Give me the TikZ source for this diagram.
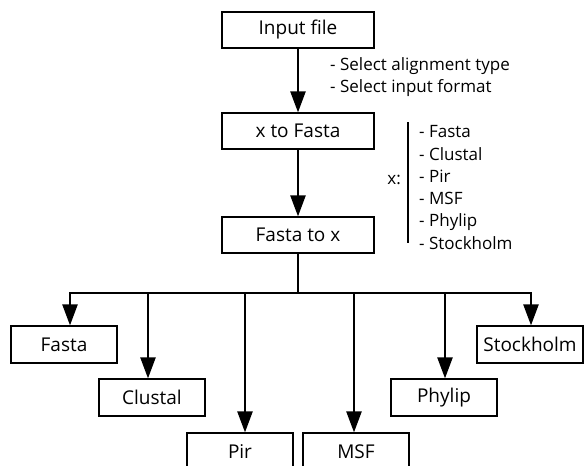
\documentclass[tikz,border=0pt]{standalone}
\usepackage{fontspec}
\setmainfont{Open Sans}
\usetikzlibrary{arrows.meta}
\tikzset{
  stepbox/.style = {draw, line width=1.2pt, minimum width=152pt, minimum height=36pt,
                    inner sep=0pt, font=\fontsize{19}{22}\selectfont},
  outbox/.style  = {draw, line width=1.2pt, minimum width=106pt, minimum height=37pt,
                    inner sep=0pt, font=\fontsize{19}{22}\selectfont},
  arrow/.style   = {-{Triangle[length=21pt, width=15pt]}, line width=2.4pt},
  bar/.style     = {line width=2.4pt},
  note/.style    = {align=left, inner sep=0pt, anchor=west},
}

\begin{document}
\begin{tikzpicture}[x=1pt, y=-1pt, every node/.style={font=\fontsize{17}{22.3}\selectfont}]
  \useasboundingbox (0,0) rectangle (584,466);
  % main chain
  \node[stepbox] (input) at (298,30) {Input file};
  \node[stepbox] (tofasta) at (298,131) {x to Fasta};
  \node[stepbox] (fromfasta) at (298,235) {Fasta to x};
  \draw[arrow] (input) -- (tofasta);
  \draw[arrow] (tofasta) -- (fromfasta);
  \node[note] (opts) at (330,77) {- Select alignment type\\- Select input format};
  % list of formats
  \node[note] (fmts) at (419,187.5) {- Fasta\\- Clustal\\- Pir\\- MSF\\- Phylip\\- Stockholm};
  \coordinate (ltop) at (408,122);
  \coordinate (lbot) at (408,243);
  \draw[bar] (ltop) -- (lbot);
  \node[anchor=east, inner sep=0pt] (xlab) at (401,180) {x:};
  % split to output formats
  \coordinate (split) at (298,293);
  \draw[bar] (fromfasta) -- (split);
  \foreach \n/\t/\x/\y/\d in {fa/Fasta/64/344.5/70, cl/Clustal/152/397.5/148,
                              pi/Pir/240/451.5/245, ms/MSF/356/451.5/354,
                              ph/Phylip/444/397.5/445, st/Stockholm/530/344.5/531} {
    \node[outbox] (\n) at (\x,\y) {\t};
    \coordinate (t\n) at (\d,293);
    \draw[arrow] (t\n) -- (t\n |- \n.north);
  }
  \draw[bar, line cap=rect] (tfa) -- (tst);
\end{tikzpicture}
\end{document}
